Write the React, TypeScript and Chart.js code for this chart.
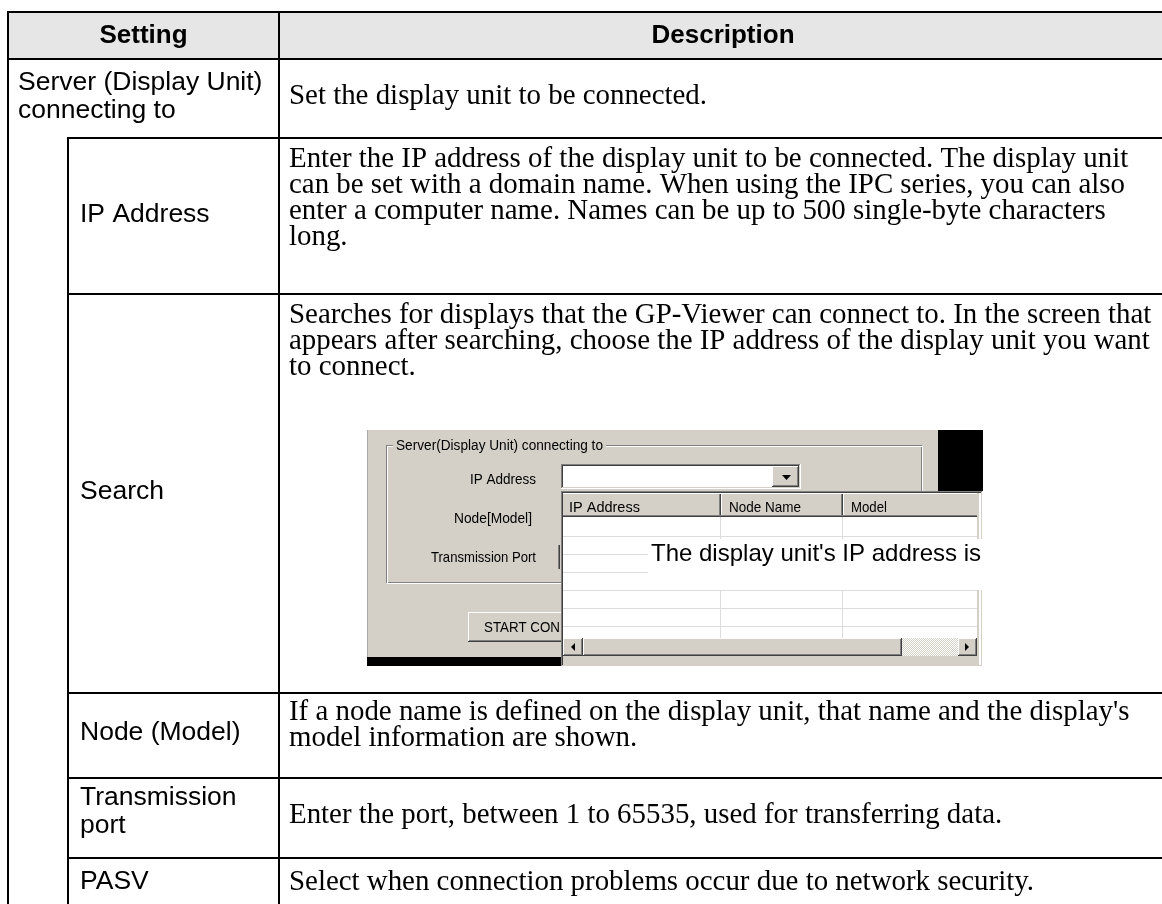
import React, { useEffect, useRef } from "react";
import { Chart, registerables } from "chart.js";

Chart.register(...registerables);

// ---------- data ----------
const headerLabels = ["Setting", "Description"];
const settingLabels: string[][] = [
  ["Server (Display Unit)", "connecting to"],
  ["IP Address"],
  ["Search"],
  ["Node (Model)"],
  ["Transmission", "port"],
  ["PASV"],
];
const descriptionLines: string[][] = [
  ["Set the display unit to be connected."],
  [
    "Enter the IP address of the display unit to be connected. The display unit",
    "can be set with a domain name. When using the IPC series, you can also",
    "enter a computer name. Names can be up to 500 single-byte characters",
    "long.",
  ],
  [
    "Searches for displays that the GP-Viewer can connect to. In the screen that",
    "appears after searching, choose the IP address of the display unit you want",
    "to connect.",
  ],
  [
    "If a node name is defined on the display unit, that name and the display's",
    "model information are shown.",
  ],
  ["Enter the port, between 1 to 65535, used for transferring data."],
  ["Select when connection problems occur due to network security."],
];
const rowLevels = [0, 1, 1, 1, 1, 1];
const dialogTitle = "Server(Display Unit) connecting to";
const dialogLabels = ["IP Address", "Node[Model]", "Transmission Port"];
const listColumns = ["IP Address", "Node Name", "Model"];
const dialogButton = "START CONNECTION";
const calloutText = "The display unit's IP address is";

// ---------- layout (page units) ----------
const LAYOUT = {
  width: 1162,
  height: 904,
  left: 8,
  right: 1163,
  top: 12,
  indent: 68,
  divider: 279,
  headerBottom: 59,
  headerBaseline: 43,
  rowBottoms: [138, 294, 693, 778, 858, 908],
  settingBaselines: [[90, 118], [222], [499], [740], [805, 833], [889]],
  descBaselines: [[104], [167, 193, 219, 245], [323, 349, 375], [720, 746], [823], [890]],
  settingPad: 10,
  descX: 289,
};

const SANS = '"Liberation Sans", Arial, sans-serif';
const SERIF = '"Liberation Serif", "Times New Roman", serif';
const WIN_GRAY = "#d4d0c8";
const WIN_DARK = "#808080";
const WIN_DARKER = "#404040";

const tablePlugin = {
  id: "settingsTable",
  afterDraw(chart: any) {
    const ctx: CanvasRenderingContext2D = chart.ctx;
    const xs = chart.scales.x;
    const ys = chart.scales.y;
    const X = (v: number) => xs.getPixelForValue(v);
    const Y = (v: number) => ys.getPixelForValue(v);
    const rect = (x1: number, y1: number, x2: number, y2: number, color: string | CanvasPattern) => {
      ctx.fillStyle = color as any;
      ctx.fillRect(X(x1), Y(y1), X(x2) - X(x1), Y(y2) - Y(y1));
    };
    const hline = (x1: number, x2: number, y: number, w = 2, color = "#000") =>
      rect(x1 - w / 2, y - w / 2, x2 + w / 2, y + w / 2, color);
    const vline = (x: number, y1: number, y2: number, w = 2, color = "#000") =>
      rect(x - w / 2, y1 - w / 2, x + w / 2, y2 + w / 2, color);
    const text = (
      s: string,
      x: number,
      y: number,
      font: string,
      align: CanvasTextAlign = "left",
      maxW?: number,
      color = "#000"
    ) => {
      ctx.font = font;
      ctx.textAlign = align;
      ctx.textBaseline = "alphabetic";
      ctx.fillStyle = color;
      if (maxW) {
        const w = ctx.measureText(s).width;
        if (w > maxW) {
          ctx.fillText(s, X(x), Y(y), maxW);
          return;
        }
      }
      ctx.fillText(s, X(x), Y(y));
    };
    const tri = (pts: number[][]) => {
      ctx.fillStyle = "#000";
      ctx.beginPath();
      ctx.moveTo(X(pts[0][0]), Y(pts[0][1]));
      for (let i = 1; i < pts.length; i++) ctx.lineTo(X(pts[i][0]), Y(pts[i][1]));
      ctx.closePath();
      ctx.fill();
    };
    const raised = (x1: number, y1: number, x2: number, y2: number) => {
      rect(x1, y1, x2, y2, WIN_GRAY);
      rect(x1, y1, x2 - 1, y1 + 1, "#ffffff");
      rect(x1, y1, x1 + 1, y2 - 1, "#ffffff");
      rect(x1 + 1, y2 - 2, x2 - 1, y2 - 1, WIN_DARK);
      rect(x2 - 2, y1 + 1, x2 - 1, y2 - 1, WIN_DARK);
      rect(x1, y2 - 1, x2, y2, WIN_DARKER);
      rect(x2 - 1, y1, x2, y2, WIN_DARKER);
    };
    const sunken = (x1: number, y1: number, x2: number, y2: number, fill = "#ffffff") => {
      rect(x1, y1, x2, y2, fill);
      rect(x1, y1, x2, y1 + 1, WIN_DARK);
      rect(x1, y1, x1 + 1, y2, WIN_DARK);
      rect(x1 + 1, y1 + 1, x2 - 1, y1 + 2, WIN_DARKER);
      rect(x1 + 1, y1 + 1, x1 + 2, y2 - 1, WIN_DARKER);
      rect(x1, y2 - 1, x2, y2, "#ffffff");
      rect(x2 - 1, y1, x2, y2, "#ffffff");
      rect(x1 + 1, y2 - 2, x2 - 1, y2 - 1, WIN_GRAY);
      rect(x2 - 2, y1 + 1, x2 - 1, y2 - 1, WIN_GRAY);
    };

    const L = LAYOUT;
    ctx.save();
    rect(0, 0, L.width, L.height, "#ffffff");

    // header
    rect(L.left, L.top, L.right, L.headerBottom, "#e6e6e6");
    text(headerLabels[0], (L.left + L.divider) / 2, L.headerBaseline, `bold 26px ${SANS}`, "center");
    text(headerLabels[1], (L.divider + L.right) / 2 + 2, L.headerBaseline, `bold 26px ${SANS}`, "center");

    // rows
    settingLabels.forEach((lines, i) => {
      const x0 = rowLevels[i] === 0 ? L.left : L.indent;
      lines.forEach((s, j) =>
        text(s, x0 + L.settingPad + (rowLevels[i] === 0 ? 0 : 2), L.settingBaselines[i][j], `26.5px ${SANS}`)
      );
      descriptionLines[i].forEach((s, j) => text(s, L.descX, L.descBaselines[i][j], `28.9px ${SERIF}`));
    });

    // grid lines
    const bottom = L.rowBottoms[L.rowBottoms.length - 1];
    hline(L.left, L.right, L.top);
    hline(L.left, L.right, L.headerBottom);
    settingLabels.forEach((_, i) => {
      const last = i === rowLevels.length - 1;
      const nextLevel = last ? 0 : rowLevels[i + 1];
      hline(last || nextLevel === 0 ? L.left : L.indent, L.right, L.rowBottoms[i]);
    });
    vline(L.left, L.top, bottom);
    vline(L.divider, L.top, bottom);
    vline(L.indent, L.rowBottoms[0], bottom);
    vline(L.right, L.top, bottom);

    // ---------- embedded dialog screenshot (Search row) ----------
    rect(367, 430, 938, 658, WIN_GRAY);
    rect(367, 430, 368, 658, "#a8a8a8");
    rect(938, 430, 983, 492, "#000000");
    rect(367, 657, 562, 666, "#000000");

    // group box (etched)
    ctx.lineWidth = 1;
    ctx.strokeStyle = WIN_DARK;
    ctx.strokeRect(X(386) + 0.5, Y(445) + 0.5, X(921) - X(386), Y(582) - Y(445));
    ctx.strokeStyle = "#ffffff";
    ctx.strokeRect(X(387) + 0.5, Y(446) + 0.5, X(921) - X(386), Y(582) - Y(445));
    rect(393, 437, 606, 454, WIN_GRAY);
    text(dialogTitle, 396, 450, `14px ${SANS}`, "left", 207);

    // labels
    text(dialogLabels[0], 536, 484, `14.5px ${SANS}`, "right", 66);
    text(dialogLabels[1], 532, 523, `14.5px ${SANS}`, "right", 78);
    text(dialogLabels[2], 536, 562, `14.5px ${SANS}`, "right", 105);

    // IP combo box
    sunken(561, 464, 801, 489);
    raised(772, 466, 799, 487);
    tri([[782, 475], [791, 475], [786.5, 480]]);

    // transmission port field edge
    rect(558, 545, 559, 569, WIN_DARK);
    rect(559, 545, 560, 569, WIN_DARKER);

    // start button
    raised(468, 612, 580, 642);
    ctx.save();
    ctx.beginPath();
    ctx.rect(X(468), Y(612), X(561) - X(468), Y(642) - Y(612));
    ctx.clip();
    text(dialogButton, 484, 632, `14.5px ${SANS}`, "left", 136);
    ctx.restore();

    // list view
    sunken(561, 491, 983, 667);
    rect(563, 493, 979, 517, WIN_GRAY);
    const colX = [563, 721, 843, 979];
    for (let c = 1; c < colX.length - 1; c++) {
      rect(colX[c] - 2, 494, colX[c] - 1, 516, WIN_DARK);
      rect(colX[c] - 1, 494, colX[c], 516, WIN_DARKER);
      rect(colX[c], 494, colX[c] + 1, 516, "#ffffff");
    }
    rect(563, 493, 979, 494, "#ffffff");
    rect(563, 515, 979, 516, WIN_DARK);
    rect(563, 516, 979, 517, WIN_DARKER);
    listColumns.forEach((s, c) =>
      text(s, colX[c] + (c === 0 ? 6 : 8), 512, `14.5px ${SANS}`, "left", [72, 72, 36][c])
    );
    const rowLines = [536, 554, 572, 590, 608, 626];
    rowLines.forEach((y) => rect(563, y, 977, y + 1, "#dcdcdc"));
    for (let c = 1; c < colX.length - 1; c++) rect(colX[c] - 1, 517, colX[c], 638, "#dcdcdc");

    // horizontal scrollbar
    const dither = document.createElement("canvas");
    dither.width = 2;
    dither.height = 2;
    const dctx = dither.getContext("2d")!;
    dctx.fillStyle = WIN_GRAY;
    dctx.fillRect(0, 0, 2, 2);
    dctx.fillStyle = "#ffffff";
    dctx.fillRect(0, 0, 1, 1);
    dctx.fillRect(1, 1, 1, 1);
    const pat = ctx.createPattern(dither, "repeat")!;
    rect(563, 638, 977, 656, pat);
    raised(563, 638, 583, 656);
    tri([[575, 643], [575, 651], [571, 647]]);
    raised(583, 638, 902, 656);
    raised(958, 638, 977, 656);
    tri([[965, 643], [965, 651], [969, 647]]);
    rect(977, 493, 979, 665, WIN_GRAY);
    rect(563, 656, 979, 665, WIN_GRAY);

    // callout
    rect(648, 539, 985, 590, "#ffffff");
    text(calloutText, 651, 561, `24px ${SANS}`, "left", 331);

    ctx.restore();
  },
};

export default function App() {
  const canvasRef = useRef<HTMLCanvasElement | null>(null);

  useEffect(() => {
    const canvas = canvasRef.current;
    if (!canvas) return;
    const chart = new Chart(canvas, {
      type: "scatter",
      data: { datasets: [{ data: [], pointRadius: 0 }] },
      options: {
        animation: false,
        responsive: false,
        devicePixelRatio: 1,
        events: [],
        layout: { padding: 0 },
        plugins: { legend: { display: false }, tooltip: { enabled: false } },
        scales: {
          x: { type: "linear", min: 0, max: LAYOUT.width, display: false },
          y: { type: "linear", min: 0, max: LAYOUT.height, reverse: true, display: false },
        },
      },
      plugins: [tablePlugin],
    });
    return () => chart.destroy();
  }, []);

  return (
    <canvas
      ref={canvasRef}
      width={LAYOUT.width}
      height={LAYOUT.height}
      style={{ position: "fixed", left: 0, top: 0, width: LAYOUT.width, height: LAYOUT.height, display: "block" }}
    />
  );
}
